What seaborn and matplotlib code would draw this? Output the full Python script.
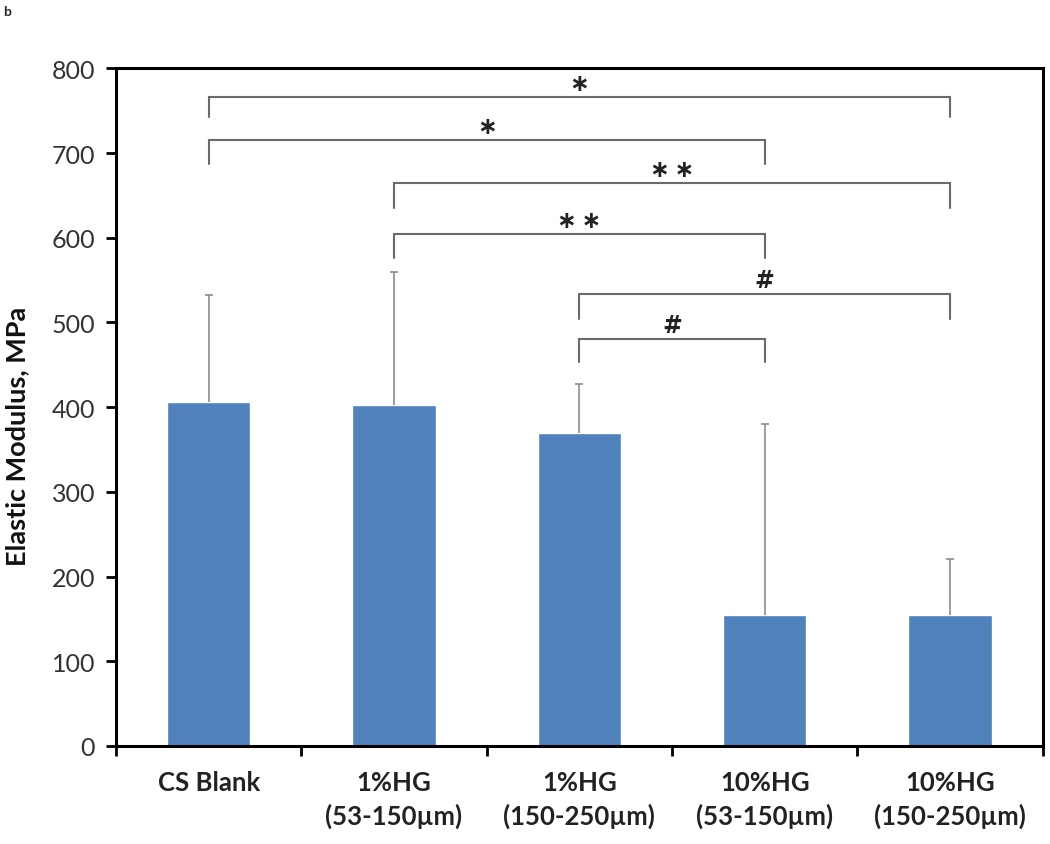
import numpy as np
import pandas as pd
import matplotlib
matplotlib.use("Agg")
import matplotlib.pyplot as plt
import seaborn as sns

categories = ["CS Blank", "1%HG\n(53-150µm)", "1%HG\n(150-250µm)",
              "10%HG\n(53-150µm)", "10%HG\n(150-250µm)"]
means = [406, 402, 369, 155, 155]
errors = [126, 157, 58, 225, 66]
yticks = [0, 100, 200, 300, 400, 500, 600, 700, 800]

# significance brackets: (start idx, end idx, bracket top value, leg bottom value, label)
bracket_start = [0, 0, 1, 1, 2, 2]
bracket_end = [4, 3, 4, 3, 4, 3]
bracket_top = [766, 715, 664, 604, 533, 480]
bracket_bottom = [742, 687, 635, 576, 504, 453]
bracket_label = ["\u2217", "\u2217", "\u2217\u2009\u2217", "\u2217\u2009\u2217", "#", "#"]

sns.set_theme(style="white")
plt.rcParams['font.family'] = ['Lato', 'DejaVu Sans']

df = pd.DataFrame({"group": categories, "value": means})

fig = plt.figure(figsize=(10.5, 8.45), dpi=100)
ax = fig.add_axes([0.1105, 0.116, 0.8825, 0.802])

sns.barplot(data=df, x="group", y="value", color="#4F81BD", saturation=1,
            width=0.45, errorbar=None, ax=ax)
xs = np.arange(len(categories))
eb = ax.errorbar(xs, means, yerr=[np.zeros(len(errors)), errors], fmt="none",
                 ecolor="#8c8c8c", elinewidth=1.2, capsize=3, capthick=1.2)
eb[1][0].set_visible(False)

for s, e, top, bot, lab in zip(bracket_start, bracket_end, bracket_top,
                               bracket_bottom, bracket_label):
    ax.plot([s, s, e, e], [bot, top, top, bot], color="#6a6a6a", lw=1.5,
            solid_joinstyle="miter")
    ax.text((s + e) / 2, top + 17, lab, ha="center", va="center",
            fontsize=17, fontweight="bold", color="#222222",
            family=["DejaVu Sans"])

ax.set_xlim(-0.5, 4.5)
ax.set_ylim(0, 800)
ax.set_yticks(yticks)
ax.set_yticklabels([str(v) for v in yticks], fontsize=18, color="#333333")
ax.set_xticks(xs)
ax.set_xticklabels(categories, fontsize=18.5, fontweight="bold", color="#222222",
                   linespacing=1.45)
ax.set_xticks(np.arange(-0.5, 5, 1), minor=True)
ax.tick_params(axis="x", which="major", length=0, pad=17)
ax.tick_params(axis="x", which="minor", length=7, width=2, direction="out",
               color="black", bottom=True)
ax.tick_params(axis="y", length=7, width=2, direction="out", color="black",
               left=True, pad=8)
ax.set_xlabel("")
ax.set_ylabel("Elastic Modulus, MPa", fontsize=19.5, fontweight="bold",
              color="#111111")
ax.yaxis.set_label_coords(-0.094, 0.459)
for sp in ax.spines.values():
    sp.set_visible(True)
    sp.set_color("black")
    sp.set_linewidth(2.2)

fig.text(0.003, 0.993, "b", fontsize=10, fontweight="bold", ha="left", va="top")

fig.savefig("out.png", dpi=100)
